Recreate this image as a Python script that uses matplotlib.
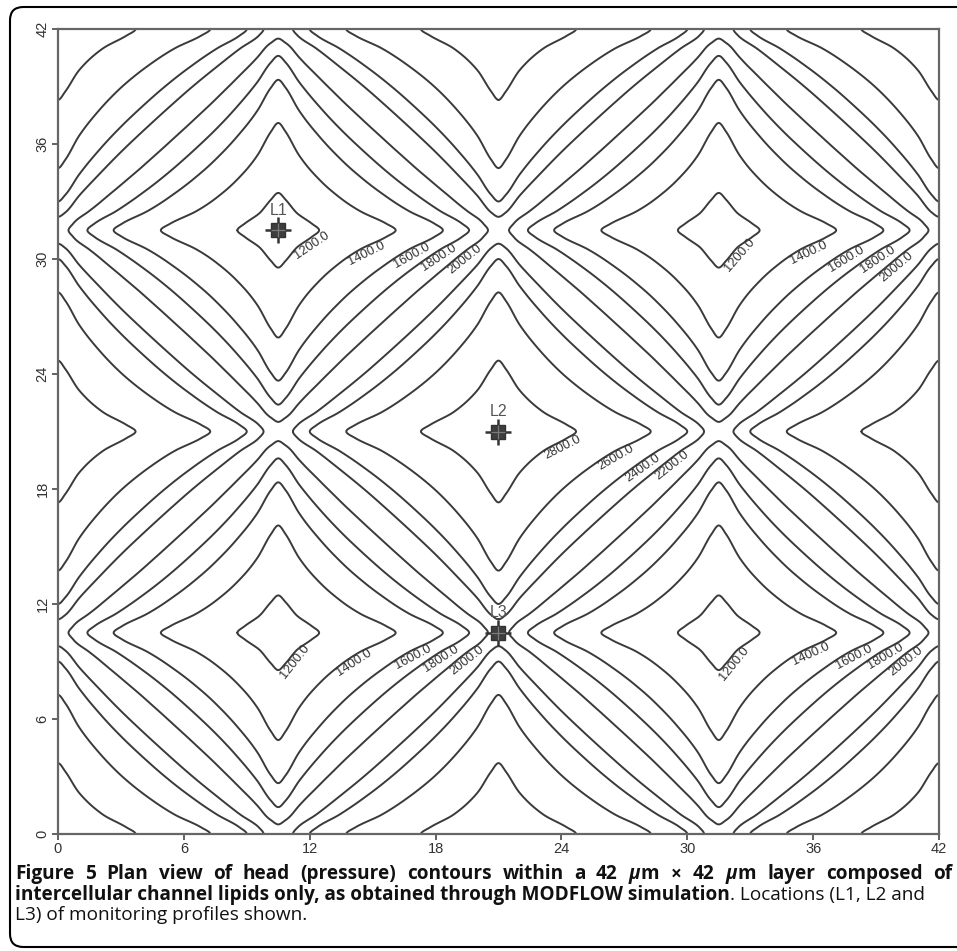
import numpy as np
import matplotlib
matplotlib.use("Agg")
import matplotlib.pyplot as plt
from matplotlib.patches import FancyBboxPatch

plt.rcParams["font.family"] = ["Liberation Sans", "DejaVu Sans"]
plt.rcParams["mathtext.fontset"] = "custom"
plt.rcParams["mathtext.it"] = "Open Sans:italic:bold"
plt.rcParams["mathtext.rm"] = "Open Sans:bold"

# head levels drawn on the chart
low_levels = [1200, 1400, 1600, 1800, 2000]
high_levels = [2200, 2400, 2600, 2800]
# where each level crosses the row through a low-head site (L1) / a high-head site (L2),
# in um from the nearest low-head column (x = 10.5 or 31.5)
low_cross = [1.95, 5.6, 7.85, 9.1, 10.0]
high_cross = [0.7, 1.5, 3.24, 6.8]

# relative head rise across one cell of the pattern (um from a low-head line -> 0..1)
profile_dist = [0.0, 0.35, 1.0, 2.0, 3.0, 4.0, 5.25, 6.5, 7.5, 8.5, 9.5, 10.15, 10.5]
profile_rise = [0.0, 0.035, 0.130, 0.236, 0.325, 0.4045, 0.5,
                0.5955, 0.675, 0.764, 0.870, 0.965, 1.0]

# monitoring profiles
sites = ["L1", "L2", "L3"]
site_x = [10.5, 21.0, 21.0]
site_y = [31.5, 21.0, 10.5]

ticks = [0, 6, 12, 18, 24, 30, 36, 42]

# contour labels: level and where the label sits
label_levels = [1200, 1400, 1600, 1800, 2000,
                1200, 1400, 1600, 1800, 2000,
                2800, 2600, 2400, 2200,
                1200, 1400, 1600, 1800, 2000,
                1200, 1400, 1600, 1800, 2000]
label_pos = [(12.12, 30.67), (14.71, 30.32), (16.89, 30.15), (18.24, 29.94), (19.4, 29.94),
             (32.27, 30.46), (35.76, 30.34), (37.59, 29.99), (39.18, 29.81), (40.05, 29.56),
             (24.17, 19.94), (26.63, 19.6), (27.9, 19.08), (29.65, 18.73),
             (11.53, 8.82), (14.97, 7.51), (16.94, 9.25), (18.32, 9.04), (19.51, 9.04),
             (32.27, 8.82), (35.92, 9.34), (37.99, 9.16), (39.5, 9.13), (40.4, 9.04)]


def pchip(xk, yk, x):
    xk = np.asarray(xk, float)
    yk = np.asarray(yk, float)
    x = np.asarray(x, float)
    h = np.diff(xk)
    d = np.diff(yk) / h
    m = np.zeros_like(yk)  # flat at both ends -> rounded tips
    for k in range(1, len(xk) - 1):
        if d[k - 1] * d[k] > 0:
            w1 = 2 * h[k] + h[k - 1]
            w2 = h[k] + 2 * h[k - 1]
            m[k] = (w1 + w2) / (w1 / d[k - 1] + w2 / d[k])
    i = np.clip(np.searchsorted(xk, x) - 1, 0, len(xk) - 2)
    t = (x - xk[i]) / h[i]
    h00 = 2 * t**3 - 3 * t**2 + 1
    h10 = t**3 - 2 * t**2 + t
    h01 = -2 * t**3 + 3 * t**2
    h11 = t**3 - t**2
    return h00 * yk[i] + h10 * h[i] * m[i] + h01 * yk[i + 1] + h11 * h[i] * m[i + 1]


def rise(v):
    e = np.abs(v % 21 - 10.5)
    return pchip(profile_dist, profile_rise, e)


grid = np.linspace(0, 42, 841)
X, Y = np.meshgrid(grid, grid)
field = rise(X) + rise(Y)

levels = low_levels + high_levels
field_levels = list(pchip(profile_dist, profile_rise, low_cross)) + \
    list(profile_rise[-1] + pchip(profile_dist, profile_rise, high_cross))

fig = plt.figure(figsize=(9.57, 9.51), dpi=100)
ax = fig.add_axes([58 / 957, 117 / 951, 881 / 957, 805 / 951])

cs = ax.contour(X, Y, field, levels=field_levels, colors="#3a3a3a", linewidths=1.4)
ax.set_xlim(0, 42)
ax.set_ylim(0, 42)

# labels sit just below their line, turned along it
for lev, pos in zip(label_levels, label_pos):
    k = levels.index(lev)
    p = ax.transData.transform(pos)
    best = None
    for poly in cs.get_paths()[k].to_polygons(closed_only=False):
        pts = ax.transData.transform(poly)
        dist = np.hypot(*(pts - p).T)
        j = int(np.argmin(dist))
        if best is None or dist[j] < best[0]:
            best = (dist[j], pts, j)
    _, pts, j = best
    a, b = pts[max(j - 3, 0)], pts[min(j + 3, len(pts) - 1)]
    ang = np.degrees(np.arctan2(b[1] - a[1], b[0] - a[0]))
    if ang > 90:
        ang -= 180
    if ang < -90:
        ang += 180
    r = np.radians(ang)
    q = pts[j] + 6.5 * np.array([np.sin(r), -np.cos(r)])
    ax.text(*ax.transData.inverted().transform(q), "%.1f" % lev, rotation=ang,
            rotation_mode="anchor", ha="center", va="center", fontsize=9.3, color="#333333")

# site markers
ax.plot(site_x, site_y, ls="none", marker="+", ms=19, mew=1.8, color="#333333", zorder=5)
ax.plot(site_x, site_y, ls="none", marker="s", ms=10.5, color="#3d3d3d", mec="#333333", zorder=6)
ax.plot(site_x, site_y, ls="none", marker="+", ms=10, mew=0.9, color="#7a7a7a", zorder=7)
for name, x, y in zip(sites, site_x, site_y):
    ax.annotate(name, (x, y), xytext=(0, 14.5), textcoords="offset points",
                ha="center", va="center", fontsize=11.5, color="#555555", zorder=8)

ax.set_xticks(ticks)
ax.set_yticks(ticks)
ax.tick_params(direction="out", length=4, width=1.3, color="#555555",
               labelsize=10.5, labelcolor="#333333", pad=2)
for lab in ax.get_yticklabels():
    lab.set_rotation(90)
    lab.set_va("center")
for s in ax.spines.values():
    s.set_color("#666666")
    s.set_linewidth(1.6)

# rounded frame around the figure (its right side runs off the page)
frame = FancyBboxPatch((10 / 957, 4 / 951), 1.05, 940 / 951,
                       boxstyle="round,pad=0,rounding_size=0.014",
                       transform=fig.transFigure, fill=False, ec="black", lw=1.5)
fig.patches.append(frame)

# caption
W = 957.0
cap = dict(fontsize=13.7, family="Open Sans", color="#111111", va="baseline")
line1 = ["Figure", "5", "Plan", "view", "of", "head", "(pressure)", "contours", "within",
         "a", "42", r"$\mu$m", r"$\times$", "42", r"$\mu$m", "layer", "composed", "of"]
words = [fig.text(0, 1 - 879 / 951, w, weight="bold", **cap) for w in line1]
t2 = fig.text(15 / W, 1 - 900 / 951,
              "intercellular channel lipids only, as obtained through MODFLOW simulation",
              weight="bold", **cap)
fig.canvas.draw()
rend = fig.canvas.get_renderer()
widths = [t.get_window_extent(rend).width for t in words]
gap = (952 - 15 - sum(widths)) / (len(words) - 1)
x = 15.0
for t, w in zip(words, widths):
    t.set_x(x / W)
    x += w + gap
bb = t2.get_window_extent(rend)
fig.text(bb.x1 / W, 1 - 900 / 951, ". Locations (L1, L2 and", **cap)
fig.text(15 / W, 1 - 920 / 951, "L3) of monitoring profiles shown.", **cap)

fig.savefig("out.png", dpi=100)
